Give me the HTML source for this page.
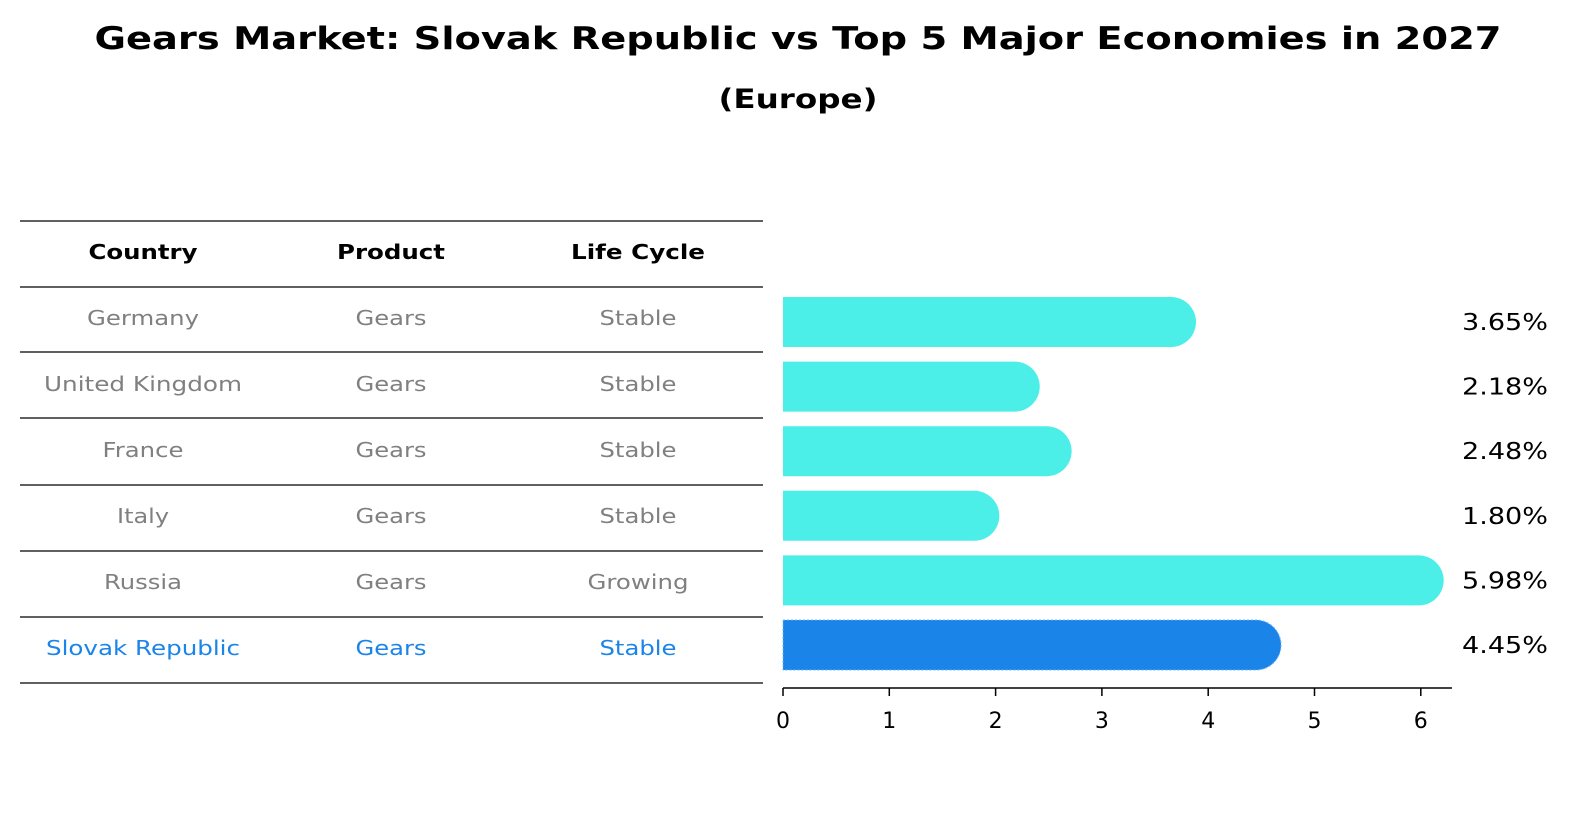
<!DOCTYPE html>
<html><head><meta charset="utf-8"><style>
body{margin:0;background:#fff;font-family:"Liberation Sans","DejaVu Sans",sans-serif}
svg text{font-family:"DejaVu Sans","Liberation Sans",sans-serif}
</style></head><body>
<svg id="chart" width="1586" height="823" xmlns="http://www.w3.org/2000/svg">
<text x="798" y="49" text-anchor="middle" font-size="31" font-weight="bold" textLength="1407" lengthAdjust="spacingAndGlyphs">Gears Market: Slovak Republic vs Top 5 Major Economies in 2027</text>
<text x="798" y="108" text-anchor="middle" font-size="27" font-weight="bold" textLength="159" lengthAdjust="spacingAndGlyphs">(Europe)</text>
<g id="table"></g>
<g id="bars"></g>
<g id="axis"></g>
</svg>
<script>
const countries=["Germany","United Kingdom","France","Italy","Russia","Slovak Republic"];
const products=["Gears","Gears","Gears","Gears","Gears","Gears"];
const lifeCycles=["Stable","Stable","Stable","Stable","Growing","Stable"];
const values=[3.65,2.18,2.48,1.80,5.98,4.45];
const valueLabels=["3.65%","2.18%","2.48%","1.80%","5.98%","4.45%"];
const ticks=[0,1,2,3,4,5,6];
const NS="http://www.w3.org/2000/svg";
function mk(t,a,p){const e=document.createElementNS(NS,t);for(const k in a)e.setAttribute(k,a[k]);p.appendChild(e);return e;}
const x=v=>783+v*106.3;
const rowY=i=>322+i*64.6;
const charW={"Country":109,"Product":108,"Life Cycle":134,"Germany":112,"Gears":71,"Stable":77,"United Kingdom":198,"France":81,"Italy":52,"Russia":78,"Growing":101,"Slovak Republic":194};
const tbl=document.getElementById('table');
const lineYs=[221,287,352,418,485,551,617,683];
lineYs.forEach(y=>{const l=mk('line',{x1:20,x2:763,y1:y,y2:y,stroke:'#000','stroke-width':1.2},tbl);

});
const colX=[143,391,638];
["Country","Product","Life Cycle"].forEach((h,j)=>{const t=mk('text',{x:colX[j],y:259,'text-anchor':'middle','font-size':20,'font-weight':'bold',textLength:charW[h],lengthAdjust:'spacingAndGlyphs'},tbl);t.textContent=h;

});
const cy=[318,384,450,516,582,648];
countries.forEach((c,i)=>{const col=i===5?'#1a84e8':'#808080';
[c,products[i],lifeCycles[i]].forEach((s,j)=>{const t=mk('text',{x:colX[j],y:cy[i]+7,'text-anchor':'middle','font-size':20,fill:col,textLength:charW[s],lengthAdjust:'spacingAndGlyphs'},tbl);t.textContent=s;

});});
const bg=document.getElementById('bars');
values.forEach((v,i)=>{const yc=rowY(i);const h=50,r=25;const x0=x(0),x1=x(v);
const col=i===5?'#1a84e8':'#4ceee8';
const p=mk('path',{d:`M${x0},${yc-h/2} L${x1},${yc-h/2} A${r},${r} 0 0 1 ${x1},${yc+h/2} L${x0},${yc+h/2} Z`,fill:col},bg);
if(i===5){p.setAttribute('stroke','#6fb4f5');p.setAttribute('stroke-dasharray','2,2');p.setAttribute('stroke-width','1');}


const t=mk('text',{x:1462,y:yc+8,'font-size':23,textLength:86,lengthAdjust:'spacingAndGlyphs'},bg);t.textContent=valueLabels[i];

});
const ax=document.getElementById('axis');
mk('line',{x1:783,x2:1452,y1:688,y2:688,stroke:'#000','stroke-width':1.5},ax);
ticks.forEach(v=>{mk('line',{x1:x(v),x2:x(v),y1:688,y2:696,stroke:'#000','stroke-width':1.5},ax);
const t=mk('text',{x:x(v),y:728,'text-anchor':'middle','font-size':22},ax);t.textContent=v;

});
</script>
</body></html>
